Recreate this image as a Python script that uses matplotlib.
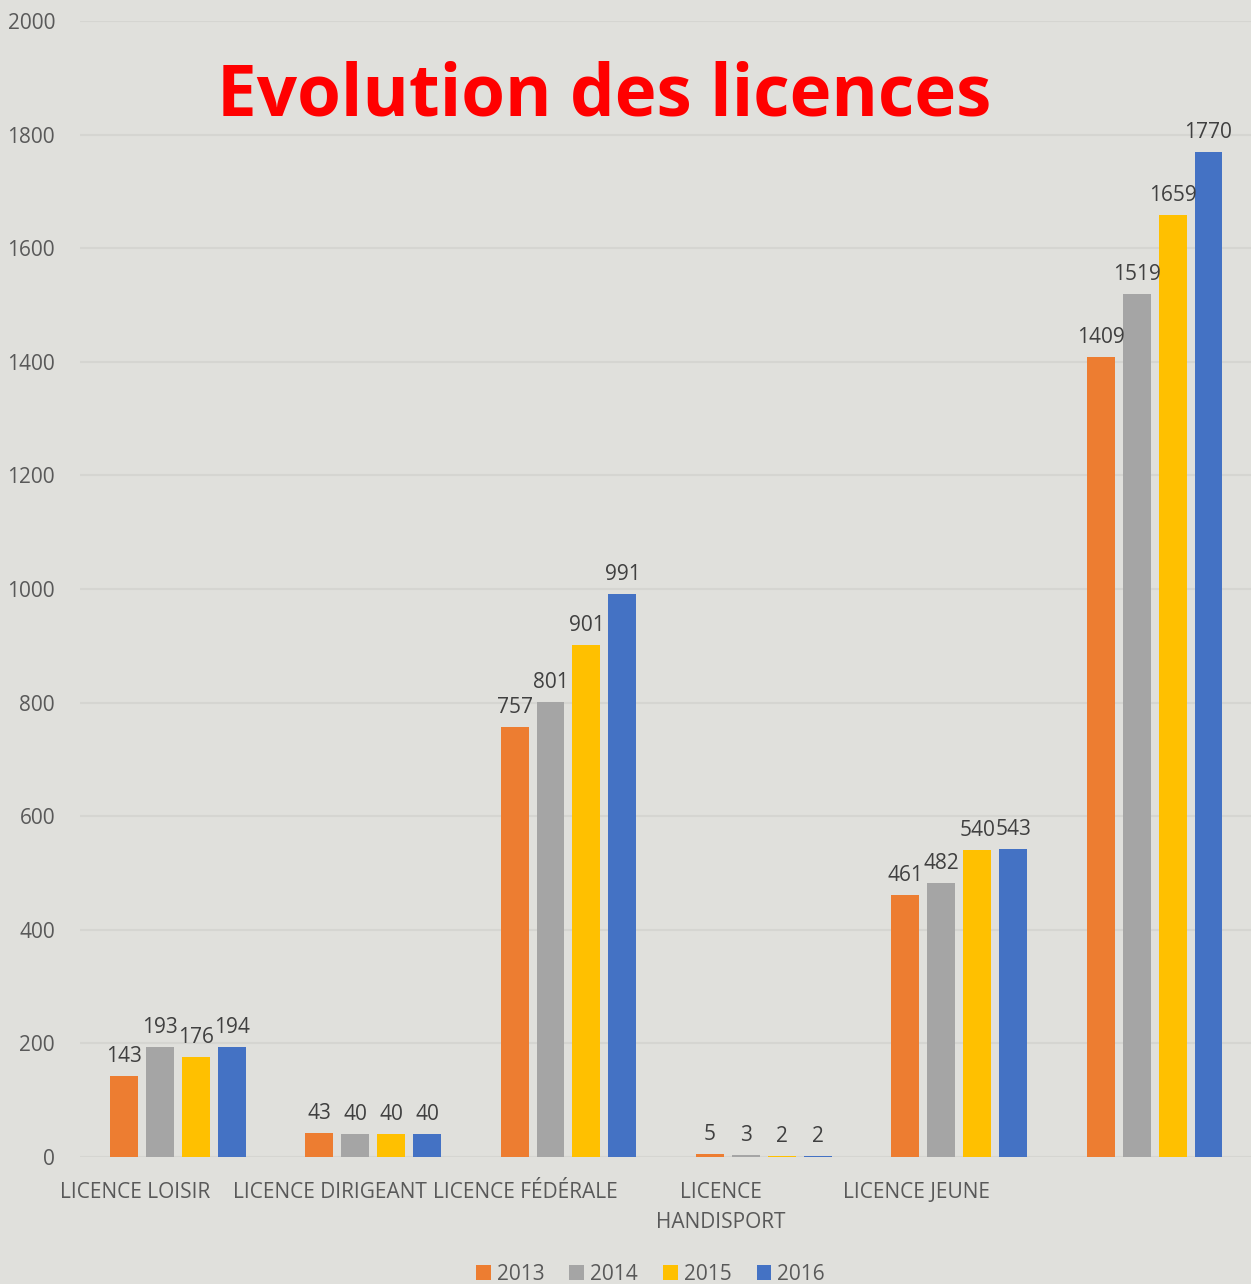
import matplotlib
matplotlib.use('Agg')
import matplotlib.pyplot as plt
import numpy as np

# data
categories = ['LICENCE LOISIR', 'LICENCE DIRIGEANT', 'LICENCE FÉDÉRALE',
              'LICENCE\nHANDISPORT', 'LICENCE JEUNE', '']
years = ['2013', '2014', '2015', '2016']
v2013 = [143, 43, 757, 5, 461, 1409]
v2014 = [193, 40, 801, 3, 482, 1519]
v2015 = [176, 40, 901, 2, 540, 1659]
v2016 = [194, 40, 991, 2, 543, 1770]
series = [v2013, v2014, v2015, v2016]
colors = ['#ED7D31', '#A5A5A5', '#FFC000', '#4472C4']

bg = '#E0E0DC'
plt.rcParams['font.family'] = ['Open Sans', 'DejaVu Sans']

fig = plt.figure(figsize=(12.51, 12.84), dpi=100, facecolor=bg)
ax = fig.add_axes([0.064, 0.0989, 0.937, 0.8847])
ax.set_facecolor(bg)

x = np.arange(len(categories))
width = 0.143
step = 0.184
for i, (vals, col, yr) in enumerate(zip(series, colors, years)):
    pos = x + (i - 1.5) * step
    bars = ax.bar(pos, vals, width, color=col, label=yr, zorder=3)
    for b, v in zip(bars, vals):
        ax.text(b.get_x() + b.get_width() / 2, v + 16, str(v), ha='center', va='bottom',
                fontsize=15, color='#404040', zorder=4)

ax.set_xlim(-0.5, 5.5)
ax.set_ylim(0, 2000)
ax.set_yticks(range(0, 2001, 200))
ax.yaxis.grid(True, color='#D5D5D1', linewidth=1.5, zorder=0)
ax.tick_params(axis='y', length=0, labelsize=15, labelcolor='#595959', pad=18)
ax.set_xticks(x - 0.22)
ax.set_xticklabels(categories, fontsize=15, color='#595959', linespacing=1.55)
ax.tick_params(axis='x', length=0, pad=18)
for s in ax.spines.values():
    s.set_visible(False)

fig.text(0.483, 0.925, 'Evolution des licences', ha='center', va='center',
         fontsize=51, fontweight='bold', color='#FF0000')

fig.legend(loc='lower center', bbox_to_anchor=(0.52, -0.015), ncol=4, frameon=False,
           fontsize=15, handlelength=0.7, handleheight=0.7, handletextpad=0.3,
           columnspacing=1.2, labelcolor='#595959')

fig.savefig('out.png', dpi=100, facecolor=bg)
